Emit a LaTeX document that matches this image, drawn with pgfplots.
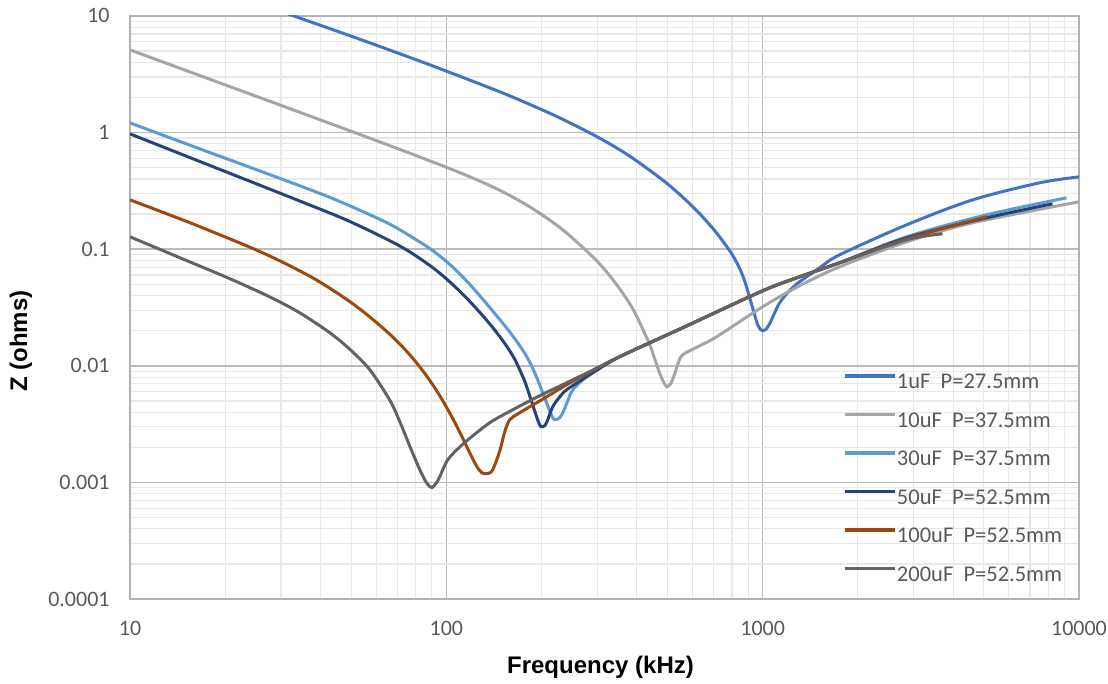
\documentclass[border=0pt]{standalone}
\usepackage{pgfplots}
\usepackage{pgfplotstable}
\pgfplotsset{compat=1.18}
\usepackage{fontspec}
\setmainfont{Carlito}
\newfontfamily\labelfont{Liberation Sans}

\definecolor{cA}{HTML}{4472C4}
\definecolor{cB}{HTML}{A5A5A5}
\definecolor{cC}{HTML}{5B9BD5}
\definecolor{cD}{HTML}{264478}
\definecolor{cE}{HTML}{9E480E}
\definecolor{cF}{HTML}{636363}
\definecolor{tickgray}{HTML}{595959}

% 1uF P=27.5mm
\pgfplotstableread{
f z
29.8 11.04
33.7 9.80
54.5 6.18
88.7 3.811
144.4 2.291
183.6 1.745
233.4 1.300
305.5 0.8954
380.1 0.628
483.2 0.3917
546.8 0.2945
618.8 0.2142
695.0 0.1514
742.0 0.1209
786.5 0.0971
815.6 0.0829
845.9 0.0683
871.0 0.0565
890.0 0.0471
923.0 0.0335
943.4 0.02725
964.3 0.0225
985.6 0.0204
1000 0.0200
1022 0.0204
1052 0.02295
1091 0.0285
1132 0.0347
1191 0.0415
1262 0.0486
1309 0.0526
1514 0.0693
1751 0.0895
2851 0.1618
4613 0.265
7503 0.3707
10000 0.417
}\tA
% 10uF P=37.5mm
\pgfplotstableread{
f z
10 5.12
50.66 1.014
88.7 0.572
112.7 0.4428
144.4 0.3294
183.6 0.2308
233.4 0.1466
298.9 0.0795
345.7 0.0495
388.5 0.0309
430.0 0.0174
442.7 0.0144
455.9 0.01146
472.8 0.00861
486.7 0.00724
497.5 0.00662
512.2 0.00702
527.2 0.00856
542.8 0.01084
558.8 0.01245
632.3 0.01487
715.6 0.01776
1000 0.0321
1309 0.0486
1751 0.0707
2851 0.1157
4613 0.1684
10000 0.2548
}\tB
% 30uF P=37.5mm
\pgfplotstableread{
f z
10 1.211
16.64 0.7249
27.69 0.4357
42.85 0.2784
61.66 0.1804
71.30 0.1466
88.70 0.1013
102.6 0.0739
118.7 0.0498
137.2 0.0316
158.7 0.0195
177.0 0.0128
190.4 0.00871
204.8 0.00527
215.4 0.00374
220.2 0.00345
228.4 0.00359
235.1 0.00412
242.1 0.00502
252.9 0.00637
290.4 0.0089
353.3 0.01197
558.8 0.0212
1000 0.0440
1309 0.0580
1751 0.0765
2851 0.1277
5104 0.1972
9130 0.2757
}\tC
% 50uF P=52.5mm
\pgfplotstableread{
f z
10 0.975
18.56 0.5022
34.43 0.2588
49.55 0.1728
71.30 0.1065
88.70 0.0725
102.6 0.0524
118.7 0.0356
137.2 0.02286
153.0 0.01555
164.6 0.01134
177.0 0.00735
187.6 0.00461
194.6 0.00342
198.9 0.00301
204.8 0.00307
209.3 0.00345
217.0 0.00446
228.4 0.00543
240.3 0.00624
277.9 0.00806
353.3 0.01197
558.8 0.0212
1000 0.0440
1309 0.0580
1751 0.0765
2851 0.1252
5104 0.1858
8248 0.245
}\tD
% 100uF P=52.5mm
\pgfplotstableread{
f z
10 0.265
15.47 0.1687
23.94 0.1040
29.78 0.0794
37.05 0.0586
42.85 0.0462
49.55 0.0355
55.68 0.02795
63.02 0.02108
69.77 0.01632
77.8 0.01187
86.13 0.00837
93.99 0.0059
102.6 0.00392
109.5 0.00280
116.1 0.00202
120.4 0.00165
124.9 0.001366
129.5 0.00121
135.3 0.00119
140.3 0.00129
147.6 0.00187
153.0 0.00272
158.7 0.00345
170.7 0.00396
207.8 0.00543
240.3 0.00689
305.5 0.00982
353.3 0.01197
558.8 0.0212
1000 0.0440
1309 0.0580
1751 0.0765
2851 0.1228
5104 0.1895
}\tE
% 200uF P=52.5mm
\pgfplotstableread{
f z
10 0.1277
14.39 0.0844
20.70 0.0558
27.69 0.03894
34.43 0.02845
42.85 0.01918
49.55 0.01385
57.33 0.00924
66.3 0.00506
71.30 0.00331
76.68 0.00204
80.69 0.001466
83.68 0.00118
86.78 0.000984
90.0 0.000903
94.0 0.001036
97.5 0.00129
101.1 0.00157
107.2 0.00187
116.1 0.00228
137.2 0.00325
162.2 0.0042
197.4 0.00554
240.3 0.00716
305.5 0.00982
353.3 0.01197
558.8 0.0212
1000 0.0440
1309 0.0580
1751 0.0765
2851 0.1204
3705 0.1355
}\tF

\begin{document}
\begin{tikzpicture}
\begin{axis}[
  at={(0,0)}, anchor=south west,
  scale only axis, width=474.5pt, height=291.5pt,
  xmode=log, ymode=log,
  xmin=10, xmax=10000, ymin=0.0001, ymax=10,
  xtick={10,100,1000,10000},
  xticklabels={10,100,1000,10000},
  ytick={0.0001,0.001,0.01,0.1,1,10},
  yticklabels={0.0001,0.001,0.01,0.1,1,10},
  grid=both,
  major grid style={draw=black!27, line width=0.7pt},
  minor grid style={draw=black!9, line width=0.6pt},
  axis line style={draw=black!30, line width=0.7pt},
  major tick length=0pt, minor tick length=0pt,
  tick style={draw=none},
  ticklabel style={font=\fontsize{11}{13}\selectfont, text=tickgray},
  xticklabel style={anchor=base, inner sep=0pt, yshift=-18pt},
  yticklabel style={anchor=base east, inner sep=0pt, xshift=-10pt, yshift=-3.5pt},
  xlabel={Frequency (kHz)},
  ylabel={Z (ohms)},
  label style={font=\labelfont\bfseries\fontsize{12}{14}\selectfont, text=black},
  xlabel style={at={(axis description cs:0.5,0)}, anchor=base, inner sep=0pt, yshift=-37.3pt, xshift=-2pt},
  ylabel style={at={(axis description cs:-0.1149,0.4425)}, anchor=center, inner sep=0pt},
  legend style={at={(axis description cs:0.7513,0.389)}, anchor=north west,
    draw=none, fill=none, inner sep=0pt,
    font=\fontsize{11.25}{13}\selectfont, text=tickgray,
    nodes={inner sep=0pt, text height=8pt, text depth=2.5pt},
    row sep=8.75pt},
  legend cell align=left,
  /tikz/every even column/.append style={column sep=2pt},
  legend image code/.code={\draw[#1, line width=1.8pt] (0pt,3.5pt) -- (25pt,3.5pt);},
  every axis plot/.append style={line width=1.5pt, smooth},
]
\addplot[cA] table[x=f, y=z] {\tA};
\addlegendentry{1uF\ \ P=27.5mm}
\addplot[cB] table[x=f, y=z] {\tB};
\addlegendentry{10uF\ \ P=37.5mm}
\addplot[cC] table[x=f, y=z] {\tC};
\addlegendentry{30uF\ \ P=37.5mm}
\addplot[cD] table[x=f, y=z] {\tD};
\addlegendentry{50uF\ \ P=52.5mm}
\addplot[cE] table[x=f, y=z] {\tE};
\addlegendentry{100uF\ \ P=52.5mm}
\addplot[cF] table[x=f, y=z] {\tF};
\addlegendentry{200uF\ \ P=52.5mm}
\end{axis}
\pgfresetboundingbox
\path[use as bounding box] (-65pt,-42.5pt) rectangle (489pt,299.5pt);
\end{tikzpicture}
\end{document}
